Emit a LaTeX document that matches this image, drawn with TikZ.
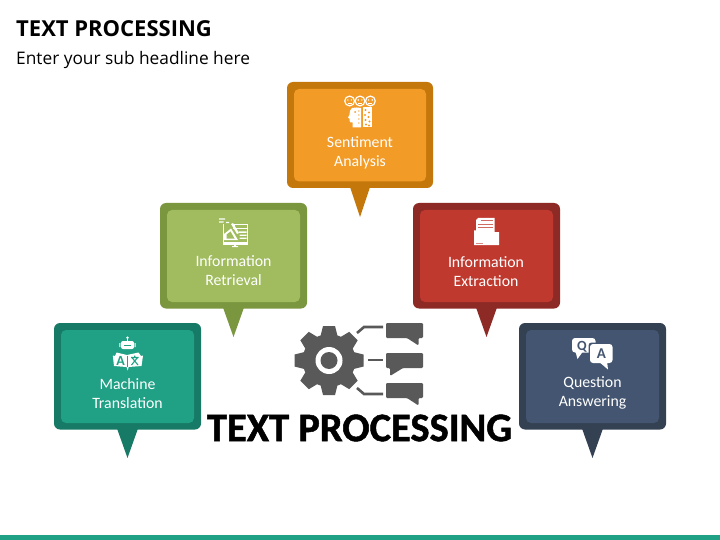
\documentclass[tikz,border=0pt]{standalone}
\usepackage{fontspec}
\setmainfont{Carlito}
\newfontfamily\headfont{Open Sans}
\newfontfamily\bigfont[FakeBold=1.2]{Carlito Bold}
\definecolor{orangeD}{HTML}{C4770A}\definecolor{orangeL}{HTML}{F39B27}
\definecolor{greenD}{HTML}{7A963F}\definecolor{greenL}{HTML}{A0BC5E}
\definecolor{redD}{HTML}{8E2A25}\definecolor{redL}{HTML}{C0392F}
\definecolor{tealD}{HTML}{177A66}\definecolor{tealL}{HTML}{20A084}
\definecolor{navyD}{HTML}{334153}\definecolor{navyL}{HTML}{435570}
\definecolor{gearC}{HTML}{595959}
\tikzset{
  outerbox/.style={fill=#1,rounded corners=6pt},
  innerbox/.style={fill=#1,rounded corners=5pt},
  tailshape/.style={fill=#1},
  lbl/.style={text=white,align=center,inner sep=0pt,font=\fontsize{15.8}{19}\selectfont},
  iconw/.style={fill=white,draw=none},
  iconl/.style={draw=white,line width=0.8pt},
  gearline/.style={draw=gearC,line width=2.6pt},
  gearfill/.style={fill=gearC,draw=none},
  bubble/.style={fill=gearC,draw=none,rounded corners=1.2pt},
}
\newcommand{\callout}[8]{% x1 y1 x2 y2 tailL tailR tipY dark/light
  \fill[outerbox=#8D] (#1,#2) rectangle (#3,#4);
  \fill[tailshape=#8D] (#5,#4-1) -- (#6,#4-1) -- ({(#5+#6)/2},#7) -- cycle;
  \fill[innerbox=#8L] (#1+7,#2+7) rectangle (#3-7,#4-6.5);
}
\begin{document}
\begin{tikzpicture}[x=1pt,y=-1pt]
\useasboundingbox (0,0) rectangle (720,540);
\fill[white] (0,0) rectangle (720,540);
\fill[tealL] (0,535) rectangle (720,540);
\node[anchor=west,inner sep=0pt,font=\headfont\bfseries\fontsize{22}{24}\selectfont] (title) at (16,28.5) {TEXT PROCESSING};
\node[anchor=west,inner sep=0pt,font=\headfont\fontsize{17.3}{20}\selectfont] (sub) at (16,60.5) {Enter your sub headline here};

\callout{287}{82}{433}{188}{350}{370}{217}{orange}
\callout{160}{203}{307}{308.5}{223}{244}{337}{green}
\callout{413}{203}{560}{308.5}{476}{497}{337}{red}
\callout{54}{323}{201}{429.5}{117}{138}{458}{teal}
\callout{519}{323}{666}{429.5}{582}{603}{458}{navy}

\node[lbl] (sent) at (360,152.5) {Sentiment\\Analysis};
\node[lbl] (retr) at (233.5,270.5) {Information\\Retrieval};
\node[lbl] (extr) at (486,271.5) {Information\\Extraction};
\node[lbl] (mach) at (127.5,393.5) {Machine\\Translation};
\node[lbl] (ques) at (592.5,392.5) {Question\\Answering};

% sentiment icon
\foreach \cx in {349.6,360,370.4}{
  \draw[iconl,line width=1.2pt] (\cx,101) circle (4.9);
  \fill[white] (\cx-1.8,100) circle (.8) (\cx+1.8,100) circle (.8);
  \draw[iconl,line width=.8pt] (\cx-2,103.2) -- (\cx+2,103.2);
}
\fill[iconw] (352,108) .. controls (355,107.3) and (358,107.3) .. (361,108) -- (361,127.5) -- (352.7,127.5) -- (352.7,122.5) -- (350.5,122.5) .. controls (349.5,122) and (349.5,120) .. (349.5,119) -- (348,117.5) -- (349.5,114.5) .. controls (349.5,112) and (350,109) .. (352,108) -- cycle;
\fill[orangeL] (355,112) circle (1) (358.8,111) circle (.7) (358.8,115) circle (.7) (358.8,119) circle (.7) (358.8,123) circle (.7);
\fill[iconw] (362.5,107.5) -- (371.5,107.5) -- (371.5,127.5) -- (362.5,127.5) -- cycle;
\foreach \px/\py in {365.5/110,369/112.5,365/115,368.5/117,365.5/120,369.5/121.5,366/124.5,369/125.5}
  \fill[orangeL] (\px,\py) circle (1.05);

% retrieval icon
\fill[iconw] (222.5,224) rectangle (248,244.5);
\fill[greenL] (224,224) rectangle (246.7,241.5);
\fill[iconw] (233,224) -- (248,224) -- (248,229.5) -- (233,229.5) -- cycle;
\fill[greenL] (235,225.5) rectangle (246.5,227.8);
\fill[iconw] (231,224) -- (233,223) -- (239,233) -- (237,234) -- cycle;
\fill[iconw] (224,234) -- (231,228.5) -- (238,240) -- (224,240) -- cycle;
\fill[greenL] (226.5,234.5) -- (230.5,231.5) -- (234.5,238.5) -- (226.5,238.5) -- cycle;
\fill[iconw] (238.5,231.5) rectangle (246.7,232.8) (239.5,234.5) rectangle (246.7,235.8) (239.5,237.5) rectangle (246.7,238.8);
\fill[iconw] (219,218.5) rectangle (225,219.6) (219,221.5) rectangle (223.5,222.6) (226,222) rectangle (229,223.2);
\fill[iconw] (232,246) rectangle (238,247.2) (234,244.5) rectangle (236,246);

% extraction icon
\fill[iconw] (478,218) -- (494.5,218) -- (494.5,232) -- (476,232) -- (476,220) -- cycle;
\draw[redL!75!white,line width=.7pt] (481,220.5) -- (493,220.5) (478,224) -- (493,224) (478,227) -- (493,227);
\fill[iconw] (474,230.5) -- (483,230.5) -- (485,232) -- (499,232) -- (499,245) -- (474,245) -- cycle;
\fill[redL!60!white] (476,243) rectangle (483,244);

% machine translation icon
\fill[iconw] (127.5,337.8) circle (1.4);
\fill[iconw] (127,338) rectangle (128,341);
\fill[iconw,rounded corners=2pt] (121,341) rectangle (134,349);
\fill[iconw] (119.3,343) rectangle (120.4,347) (134.6,343) rectangle (135.7,347);
\fill[tealL] (124,344.5) rectangle (131,345.9);
\fill[iconw] (116.5,352.5) -- (127,355) -- (138.5,352.5) -- (141,356) -- (143,355.5) -- (141.5,366) -- (128.7,367) -- (127.7,370.5) -- (126.5,367) -- (114,366) -- (112.8,355.5) -- (115,356) -- cycle;
\draw[tealL,line width=.7pt] (127.7,355.5) -- (127.7,367);
\node[inner sep=0pt,text=tealL,font=\bfseries\fontsize{14}{14}\selectfont] (letA) at (120.7,361) {A};
\draw[tealL,line width=1.1pt] (131,357.5) -- (138.5,357.5) (134.7,355.7) -- (134.7,357.5) (132.3,358) -- (138,365) (137.2,358) -- (131.5,365);

% Q A icon
\fill[iconw,rounded corners=3pt] (572,338) rectangle (595.5,352.5);
\fill[iconw] (575,350) -- (584,350) -- (577.5,359) -- cycle;
\fill[navyL,rounded corners=3pt] (588.5,342.5) rectangle (614,364.5);
\fill[iconw,rounded corners=3pt] (590,344) rectangle (612.5,363);
\fill[iconw] (598,361) -- (607,361) -- (608,369.5) -- cycle;
\node[inner sep=0pt,text=navyL,font=\bfseries\fontsize{14}{14}\selectfont,text height=9pt,text depth=0pt] (letQ) at (582,345.5) {Q};
\node[inner sep=0pt,text=navyL,font=\bfseries\fontsize{15}{15}\selectfont,text height=9pt,text depth=0pt] (letB) at (601.5,354) {A};

% gear
\begin{scope}[shift={(329,360.5)}]
\fill[gearfill] (0,0) circle (26.5);
\foreach \a in {0,45,...,315}
  \fill[gearfill,rotate=\a] (-8.5,-24.5) -- (-6,-34.5) -- (6,-34.5) -- (8.5,-24.5) -- cycle;
\fill[white] (0,0) circle (13.5);
\fill[gearfill] (0,0) circle (8.5);
\end{scope}
\coordinate (c1a) at (357,333);\coordinate (c1b) at (364,327);\coordinate (c1c) at (383,327);
\coordinate (c2a) at (368,360);\coordinate (c2c) at (383,360);
\coordinate (c3a) at (357,388);\coordinate (c3b) at (364,394);\coordinate (c3c) at (383,394);
\draw[gearline] (c1a) -- (c1b) -- (c1c);
\draw[gearline] (c2a) -- (c2c);
\draw[gearline] (c3a) -- (c3b) -- (c3c);
\fill[bubble] (386,323) -- (423,323) -- (423,338) -- (418.5,338) -- (418.5,345.5) -- (407,338) -- (386,338) -- cycle;
\fill[bubble] (386,353) -- (423,353) -- (423,368) -- (403,368) -- (390,376) -- (390,368) -- (386,368) -- cycle;
\fill[bubble] (386,383) -- (423,383) -- (423,398) -- (418.5,398) -- (418.5,405.5) -- (407,398) -- (386,398) -- cycle;

\node[inner sep=0pt,font=\bigfont\fontsize{40.5}{42}\selectfont] (big) at (359.5,428) {TEXT PROCESSING};
\end{tikzpicture}
\end{document}
